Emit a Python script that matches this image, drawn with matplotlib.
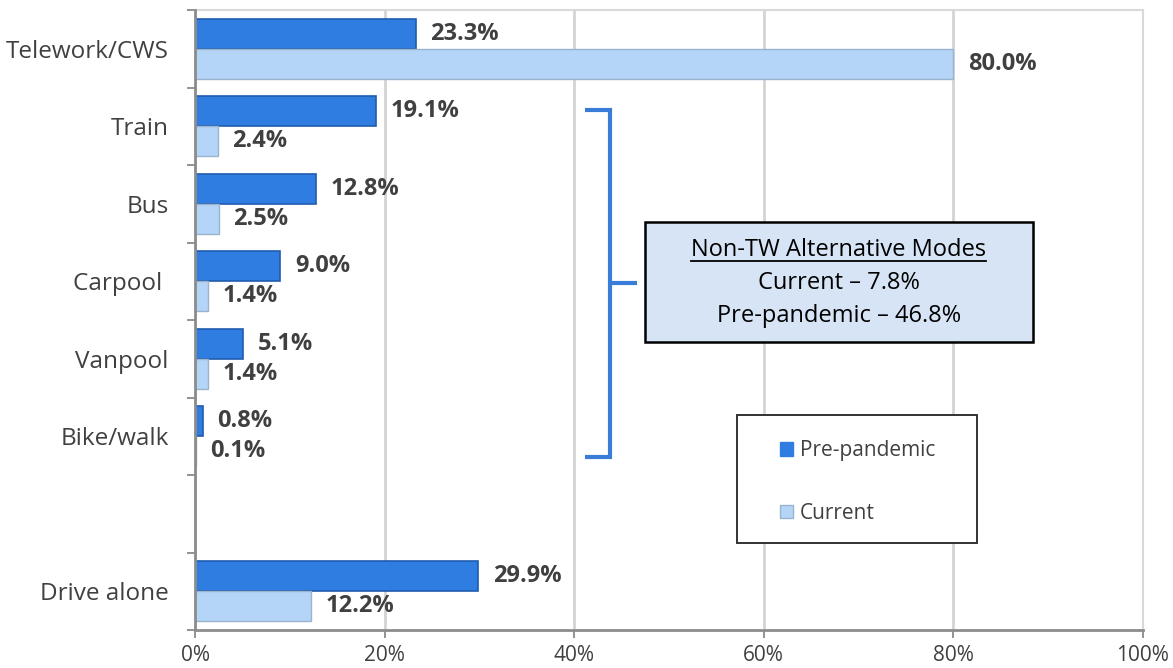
import matplotlib.pyplot as plt
import matplotlib.patches as mpatches
import numpy as np

plt.rcParams['font.family'] = ['Open Sans', 'DejaVu Sans']

# commute mode shares (%), top to bottom; row 6 is an empty spacer slot
categories = ['Telework/CWS', 'Train', 'Bus', 'Carpool ', 'Vanpool', 'Bike/walk', '', 'Drive alone']
rows = [0, 1, 2, 3, 4, 5, 7]
pre_pandemic = [23.3, 19.1, 12.8, 9.0, 5.1, 0.8, 29.9]
current = [80.0, 2.4, 2.5, 1.4, 1.4, 0.1, 12.2]
x_ticks = [0, 20, 40, 60, 80, 100]
x_tick_labels = ['0%', '20%', '40%', '60%', '80%', '100%']

box_title = 'Non-TW Alternative Modes'
box_lines = ['Current \u2013 7.8%', 'Pre-pandemic \u2013 46.8%']

DARK = '#2F7DE0'
DARK_EDGE = '#1F5CAE'
LIGHT = '#B5D5F8'
LIGHT_EDGE = '#9AB3CF'
TEXT = '#404040'

fig = plt.figure(figsize=(11.73, 6.68), dpi=100)
ax = fig.add_axes([195 / 1173, 1 - 630 / 668, 948 / 1173, 620 / 668])

h = 0.39
y = np.array(rows, dtype=float)
ax.barh(y - h / 2, pre_pandemic, height=h, color=DARK, edgecolor=DARK_EDGE, linewidth=1.2, zorder=3)
ax.barh(y + h / 2, current, height=h, color=LIGHT, edgecolor=LIGHT_EDGE, linewidth=1.0, zorder=3)

# value labels just past the bar ends
for yy, v in zip(y, pre_pandemic):
    ax.annotate(f'{v:.1f}%', (v, yy - h / 2), xytext=(10.5, 0), textcoords='offset points',
                va='center', ha='left', fontsize=17, fontweight='bold', color=TEXT)
for yy, v in zip(y, current):
    ax.annotate(f'{v:.1f}%', (v, yy + h / 2), xytext=(10.5, 0), textcoords='offset points',
                va='center', ha='left', fontsize=17, fontweight='bold', color=TEXT)

ax.set_xlim(0, 100)
ax.set_ylim(len(categories) - 0.5, -0.5)

ax.set_xticks(x_ticks)
ax.set_xticklabels(x_tick_labels, fontsize=15, color=TEXT)
ax.set_yticks(np.arange(len(categories)))
ax.set_yticklabels(categories, fontsize=17.5, color=TEXT)
ax.set_yticks(np.arange(len(categories) + 1) - 0.5, minor=True)
ax.tick_params(axis='y', which='major', length=0, pad=19)
ax.tick_params(axis='y', which='minor', length=6, width=1.2, color='#808080')
ax.tick_params(axis='x', length=6, width=1.2, color='#808080', pad=5)

ax.grid(axis='x', color='#D4D4D4', linewidth=2, zorder=0)
for side in ('top', 'right'):
    ax.spines[side].set_color('#D9D9D9')
    ax.spines[side].set_linewidth(1.5)
for side in ('left', 'bottom'):
    ax.spines[side].set_color('#8C8C8C')
    ax.spines[side].set_linewidth(2)
    ax.spines[side].set_zorder(4)

# bracket grouping the non-telework alternative modes
BLUE = '#3A7DD8'
ax.plot([41.1, 43.8, 43.8, 41.1], [0.79, 0.79, 5.27, 5.27], color=BLUE, lw=3,
        solid_capstyle='butt', solid_joinstyle='miter', zorder=5, clip_on=False)
ax.plot([43.8, 46.6], [3.02, 3.02], color=BLUE, lw=3, solid_capstyle='butt', zorder=5)

# summary box
ax.add_patch(mpatches.Rectangle((47.5, 2.235), 40.9, 1.545, facecolor='#D6E4F5',
                                edgecolor='black', linewidth=1.8, zorder=6))
t = ax.text(67.9, 2.60, box_title, ha='center', va='center', fontsize=17, color='black', zorder=7)
for i, line in enumerate(box_lines):
    ax.text(67.9, 3.02 + 0.43 * i, line, ha='center', va='center', fontsize=17, color='black', zorder=7)

# underline under the box title
fig.canvas.draw()
bb = t.get_window_extent().transformed(ax.transData.inverted())
ax.plot([bb.x0, bb.x1], [bb.y0 - 0.01, bb.y0 - 0.01], color='black', lw=1.3, zorder=7)

# legend with its own square frame
ax.add_patch(mpatches.Rectangle((57.2, 4.73), 25.3, 1.65, facecolor='white',
                                edgecolor='#333333', linewidth=1.4, zorder=6))
handles = [mpatches.Patch(facecolor=DARK, edgecolor=DARK, label='Pre-pandemic'),
           mpatches.Patch(facecolor=LIGHT, edgecolor=LIGHT_EDGE, label='Current')]
leg = ax.legend(handles=handles, loc='upper left', bbox_to_anchor=(0.606, 0.323),
                frameon=False, fontsize=15, handlelength=0.65, handleheight=0.65,
                handletextpad=0.3, labelspacing=2.0, borderpad=0)
leg.set_zorder(7)
for txt in leg.get_texts():
    txt.set_color(TEXT)

fig.savefig('out.png', dpi=100, facecolor='white')
